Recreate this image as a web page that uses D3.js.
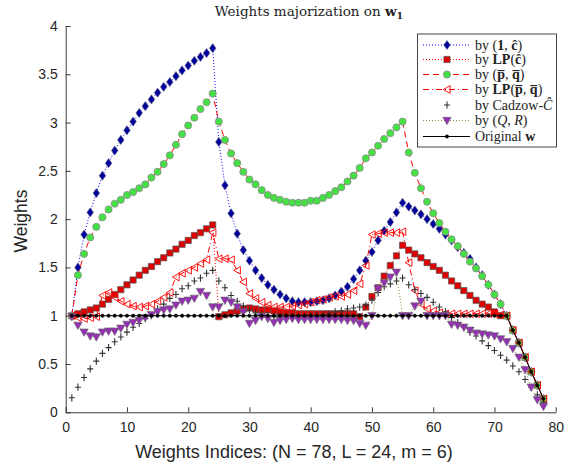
<!DOCTYPE html>
<html><head><meta charset="utf-8">
<script src="https://cdn.jsdelivr.net/npm/d3@7"></script>
<style>body{margin:0;background:#fff}</style>
</head><body>
<svg id="c" width="576" height="468"></svg>
<script>
const idx = d3.range(1, 79);
const byOneC = [1.00,1.50,1.84,2.07,2.27,2.45,2.58,2.71,2.82,2.92,3.01,3.10,3.17,3.24,3.31,3.37,3.42,3.48,3.54,3.59,3.64,3.68,3.72,3.77,
2.80,2.35,2.06,1.85,1.68,1.57,1.47,1.39,1.32,1.27,1.22,1.18,1.15,1.14,1.14,1.14,1.15,1.16,1.18,1.21,1.25,1.30,1.38,1.47,1.57,1.66,1.78,1.88,1.97,2.07,2.17,
2.13,2.09,2.05,2.00,1.95,1.90,1.84,1.78,1.71,1.65,1.59,1.50,1.42,1.32,1.22,1.12,1.00,0.85,0.72,0.57,0.42,0.28,0.14];
const byLPC = [1.00,1.02,1.04,1.06,1.08,1.12,1.17,1.22,1.27,1.32,1.37,1.42,1.47,1.51,1.56,1.60,1.65,1.69,1.74,1.78,1.83,1.86,1.90,1.94,
0.99,1.01,1.03,1.05,1.07,1.08,1.07,1.06,1.06,1.05,1.04,1.03,1.03,1.02,1.02,1.02,1.02,1.02,1.02,1.02,1.02,1.02,1.02,0.99,1.09,1.20,1.29,1.41,1.52,1.62,1.73,
1.68,1.64,1.60,1.55,1.51,1.47,1.42,1.36,1.31,1.26,1.21,1.16,1.12,1.09,1.04,1.00,1.00,0.85,0.72,0.57,0.42,0.28,0.14];
const byPQ = [1.00,1.42,1.64,1.81,1.92,2.02,2.10,2.16,2.20,2.25,2.28,2.32,2.36,2.43,2.49,2.57,2.66,2.77,2.88,2.97,3.05,3.14,3.21,3.30,
3.01,2.82,2.68,2.58,2.49,2.41,2.36,2.30,2.25,2.22,2.20,2.18,2.17,2.17,2.17,2.19,2.19,2.22,2.25,2.29,2.33,2.39,2.45,2.53,2.63,2.69,2.76,2.83,2.89,2.95,3.01,
2.69,2.48,2.32,2.18,2.06,1.96,1.87,1.79,1.72,1.64,1.56,1.49,1.41,1.32,1.22,1.12,1.00,0.85,0.72,0.57,0.42,0.28,0.14];
const byLPPQ = [1.00,0.98,0.97,0.98,0.99,1.21,1.24,1.19,1.15,1.12,1.10,1.09,1.10,1.12,1.15,1.19,1.24,1.40,1.44,1.47,1.50,1.54,1.58,1.86,
1.59,1.59,1.58,1.47,1.35,1.23,1.18,1.14,1.11,1.09,1.09,1.09,1.10,1.11,1.12,1.14,1.16,1.17,1.19,1.20,1.20,1.22,1.26,1.33,1.52,1.84,1.85,1.86,1.86,1.86,1.87,
1.55,1.26,1.12,1.07,1.05,1.03,1.02,1.02,1.02,1.02,1.02,1.02,1.02,1.02,1.02,1.01,1.00,0.85,0.72,0.57,0.42,0.28,0.14];
const byCadzow = [0.15,0.26,0.36,0.45,0.53,0.61,0.67,0.73,0.78,0.83,0.88,0.92,0.97,1.00,1.07,1.12,1.18,1.22,1.28,1.31,1.36,1.39,1.44,1.47,
1.36,1.29,1.21,1.15,1.10,1.06,1.03,1.01,1.00,0.99,0.99,0.99,0.99,0.99,0.99,1.00,1.00,1.01,1.02,1.04,1.05,1.07,1.08,1.09,1.11,1.16,1.24,1.30,1.33,1.36,1.39,
1.32,1.27,1.23,1.19,1.14,1.09,1.04,0.98,0.93,0.88,0.83,0.79,0.74,0.69,0.64,0.59,0.54,0.48,0.42,0.34,0.26,0.18,0.10];
const byQR = [0.99,0.90,0.83,0.79,0.78,0.83,0.84,0.84,0.87,0.91,0.93,0.95,0.98,1.01,1.04,1.06,1.07,1.11,1.15,1.16,1.18,1.25,1.21,1.09,
1.09,1.16,1.14,1.09,1.04,0.92,0.95,0.99,0.97,0.93,0.95,0.96,0.97,0.96,0.96,0.96,0.96,0.96,0.96,0.96,0.96,0.95,0.95,0.92,0.90,1.00,1.28,1.34,1.40,1.45,1.00,
1.00,1.10,1.15,1.00,1.00,1.00,1.00,0.91,0.90,0.88,0.85,0.82,0.81,0.80,0.79,0.76,0.73,0.66,0.57,0.44,0.26,0.13,0.06];
const original = [1,1,1,1,1,1,1,1,1,1,1,1,1,1,1,1,1,1,1,1,1,1,1,1,
1,1,1,1,1,1,1,1,1,1,1,1,1,1,1,1,1,1,1,1,1,1,1,1,1,1,1,1,1,1,1,
1,1,1,1,1,1,1,1,1,1,1,1,1,1,1,1,1,0.85,0.72,0.57,0.42,0.28,0.14];
const xTicks = [0,10,20,30,40,50,60,70,80];
const yTicks = [0,0.5,1,1.5,2,2.5,3,3.5,4];
const yTickLabels = ["0","0.5","1","1.5","2","2.5","3","3.5","4"];

const svg = d3.select("#c");
const L = 65.7, R = 555.7, T = 26, B = 412.3;
const x = d3.scaleLinear().domain([0,80]).range([L,R]);
const y = d3.scaleLinear().domain([0,4]).range([B,T]);
const axc = "#262626";
const sans = "'Liberation Sans',Arial,sans-serif";

// axes
const gx = svg.append("g").attr("transform",`translate(0,${B})`)
  .call(d3.axisBottom(x).tickValues(xTicks).tickSizeInner(-5).tickSizeOuter(0).tickPadding(10));
const gy = svg.append("g").attr("transform",`translate(${L},0)`)
  .call(d3.axisLeft(y).tickValues(yTicks).tickFormat((d,i)=>yTickLabels[i]).tickSizeInner(-5).tickSizeOuter(0).tickPadding(8));
[gx,gy].forEach(g=>{
  g.selectAll("path,line").attr("stroke",axc).attr("stroke-width",0.9);
  g.selectAll("text").attr("fill",axc).style("font-family",sans).style("font-size","14px");
});

const dS = "M0,-4.6L3.3,0L0,4.6L-3.3,0Z";
const sqS = "M-3.1,-3.1h6.2v6.2h-6.2Z";
const ltS = "M-3.6,0L3.2,-3.8L3.2,3.8Z";
const dtS = "M-4.2,-3.2L4.2,-3.2L0,4.2Z";
const plusS = "M-3,0H3M0,-3.6V3.6";
const cirS = d3.symbol().type(d3.symbolCircle).size(40)();
const dotS = d3.symbol().type(d3.symbolCircle).size(9)();

const series = [
  {name:"oneC", v:byOneC, line:"#0000ff", dash:"1,2", lw:1, marker:dS, fill:"#00009a", stroke:"#6a6a8a", sw:0.6},
  {name:"lpC", v:byLPC, line:"#ff0000", dash:"1,2", lw:1, marker:sqS, fill:"#e00000", stroke:"#555", sw:0.7},
  {name:"pq", v:byPQ, line:"#ff0000", dash:"6,4", lw:1, marker:cirS, fill:"#44e044", stroke:"#8a8a8a", sw:0.8},
  {name:"lppq", v:byLPPQ, line:"#ff0000", dash:"6,3,1,3", lw:1, marker:ltS, fill:"none", stroke:"#ff0000", sw:0.9},
  {name:"cad", v:byCadzow, line:null, marker:plusS, fill:"none", stroke:"#333", sw:1.1},
  {name:"qr", v:byQR, line:"#8c8c40", dash:"1,2", lw:1, marker:dtS, fill:"#9430b4", stroke:"#666", sw:0.6},
  {name:"orig", v:original, line:"#000", dash:null, lw:1, marker:dotS, fill:"#000", stroke:"#000", sw:0.5}
];

const line = d3.line().x((d,i)=>x(idx[i])).y(d=>y(d));
series.forEach(s=>{
  const g = svg.append("g");
  if (s.line) {
    g.append("path").datum(s.v).attr("d",line).attr("fill","none")
      .attr("stroke",s.line).attr("stroke-width",s.lw)
      .attr("stroke-dasharray",s.dash);
  }
  g.selectAll("path.m").data(s.v).join("path").attr("class","m")
    .attr("transform",(d,i)=>`translate(${x(idx[i])},${y(d)})`)
    .attr("d",s.marker).attr("fill",s.fill).attr("stroke",s.stroke).attr("stroke-width",s.sw);
});

// title
const serif = "'Liberation Serif','Times New Roman',serif";
const title = svg.append("text").attr("x",309).attr("y",16).attr("text-anchor","middle")
  .style("font-family","'DejaVu Serif',serif").style("font-size","13.5px").attr("fill","#222");
title.append("tspan").text("Weights majorization on ");
title.append("tspan").text("w").style("font-weight","bold");
title.append("tspan").text("1").style("font-weight","bold").style("font-size","9.5px").attr("dy",3);

// axis labels
svg.append("text").attr("x",294).attr("y",458).attr("text-anchor","middle")
  .style("font-family",sans).style("font-size","18px").attr("fill",axc)
  .text("Weights Indices: (N = 78, L = 24, m = 6)");
svg.append("text").attr("transform","translate(27,221) rotate(-90)").attr("text-anchor","middle")
  .style("font-family",sans).style("font-size","17.5px").attr("fill",axc)
  .text("Weights");

// legend
const lg = svg.append("g");
lg.append("rect").attr("x",417.5).attr("y",34).attr("width",139).attr("height",113)
  .attr("fill","#fff").attr("stroke","#333").attr("stroke-width",0.9);
const legRows = [
  {s:0, parts:[["by (",""],["1","b"],[", ",""],["ĉ","b"],[")",""]]},
  {s:1, parts:[["by ",""],["LP","b"],["(",""],["ĉ","b"],[")",""]]},
  {s:2, parts:[["by (",""],["p\u0305","b"],[", ",""],["q\u0305","b"],[")",""]]},
  {s:3, parts:[["by ",""],["LP","b"],["(",""],["p\u0305","b"],[", ",""],["q\u0305","b"],[")",""]]},
  {s:4, parts:[["by Cadzow-",""],["C\u0302","i"]]},
  {s:5, parts:[["by (",""],["Q","i"],[", ",""],["R","i"],[")",""]]},
  {s:6, parts:[["Original ",""],["w","b"]]}
];
const rowY = [45,59.5,74.5,89.5,105,120.5,136.5];
legRows.forEach((r,k)=>{
  const s = series[r.s], yy = rowY[k];
  if (s.line) lg.append("line").attr("x1",423).attr("x2",470).attr("y1",yy).attr("y2",yy)
    .attr("stroke",s.line).attr("stroke-width",s.lw).attr("stroke-dasharray",s.dash);
  lg.append("path").attr("transform",`translate(447,${yy})`).attr("d",s.marker)
    .attr("fill",s.fill).attr("stroke",s.stroke).attr("stroke-width",s.sw);
  const t = lg.append("text").attr("x",475).attr("y",yy+4.5)
    .style("font-family",serif).style("font-size","14px").attr("fill","#222");
  r.parts.forEach(p=>{
    const ts = t.append("tspan").text(p[0]);
    if (p[1]==="b") ts.style("font-weight","bold");
    if (p[1]==="i") ts.style("font-style","italic");
  });
});
</script>
</body></html>
